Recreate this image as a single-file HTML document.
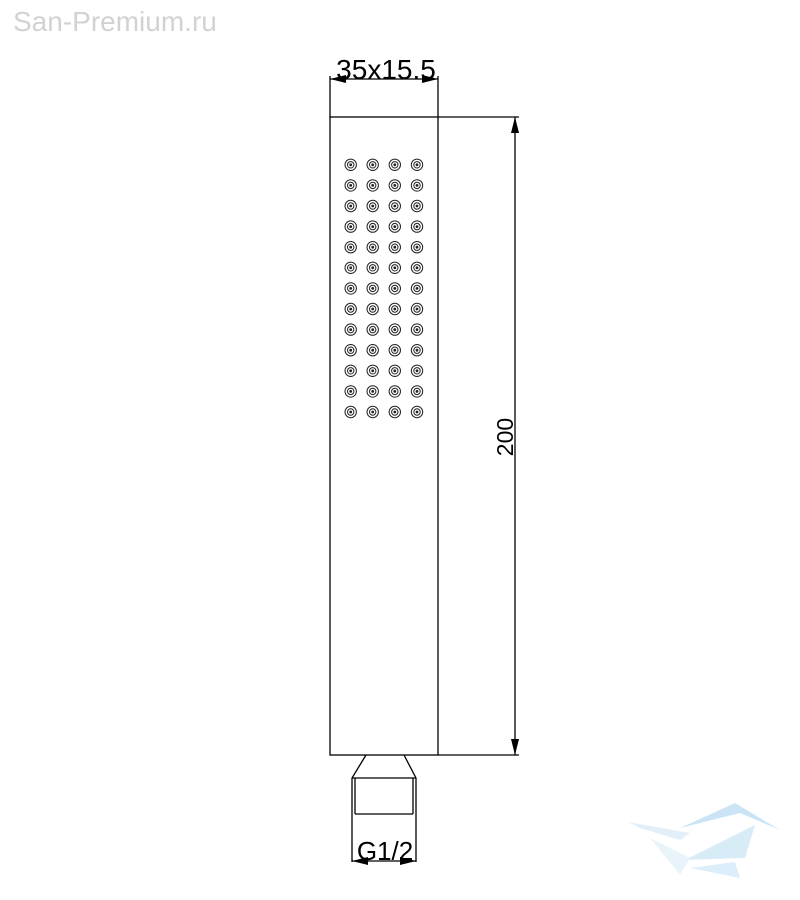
<!DOCTYPE html>
<html><head><meta charset="utf-8"><style>
html,body{margin:0;padding:0;background:#fff;}
svg{display:block;}
</style></head><body>
<svg width="800" height="900" viewBox="0 0 800 900" xmlns="http://www.w3.org/2000/svg">
<defs>
<g id="d" stroke="#222" fill="none" stroke-width="1"><circle r="5.7"/><circle r="3.2"/><circle r="0.9" fill="#222"/></g>
<g id="row"><use href="#d" x="350.7"/><use href="#d" x="372.7"/><use href="#d" x="394.8"/><use href="#d" x="417"/></g>
</defs>
<text x="13" y="31" font-family="Liberation Sans, sans-serif" font-size="28" fill="#d2d2d2">San-Premium.ru</text>
<g stroke="#000" stroke-width="1.3" fill="none">
<rect x="330" y="117" width="108" height="638"/>
<line x1="438" y1="117" x2="519" y2="117"/>
<line x1="438" y1="755" x2="519" y2="755"/>
<line x1="515" y1="117" x2="515" y2="755"/>
<line x1="330" y1="117" x2="330" y2="76"/>
<line x1="438" y1="117" x2="438" y2="76"/>
<line x1="330" y1="79" x2="438" y2="79"/>
<polyline points="366,755 352,778 352,862"/>
<polyline points="404,755 416,778 416,862"/>
<line x1="352" y1="778" x2="416" y2="778"/>
<line x1="355" y1="778" x2="355" y2="814"/>
<line x1="413" y1="778" x2="413" y2="814"/>
<line x1="355" y1="814" x2="413" y2="814"/>
<line x1="352" y1="861" x2="416" y2="861"/>
</g>
<g fill="#000">
<polygon points="330,79 346,75 346,83"/>
<polygon points="438,79 422,75 422,83"/>
<polygon points="515,117 511,133 519,133"/>
<polygon points="515,755 511,739 519,739"/>
<polygon points="352,861 368,857 368,865"/>
<polygon points="416,861 400,857 400,865"/>
</g>
<text x="386" y="79" text-anchor="middle" font-family="Liberation Sans, sans-serif" font-size="28">35x15.5</text>
<text x="385" y="860" text-anchor="middle" font-family="Liberation Sans, sans-serif" font-size="26">G1/2</text>
<text transform="translate(513,437) rotate(-90)" text-anchor="middle" font-family="Liberation Sans, sans-serif" font-size="23">200</text>
<use href="#row" y="164.8"/>
<use href="#row" y="185.4"/>
<use href="#row" y="206"/>
<use href="#row" y="226.6"/>
<use href="#row" y="247.2"/>
<use href="#row" y="267.8"/>
<use href="#row" y="288.4"/>
<use href="#row" y="309"/>
<use href="#row" y="329.6"/>
<use href="#row" y="350.2"/>
<use href="#row" y="370.8"/>
<use href="#row" y="391.4"/>
<use href="#row" y="412"/>
<g opacity="0.6">
<polygon points="628,822 690,833 680,840 640,828" fill="#cfe6f5"/>
<polygon points="680,828 735,803 780,830 740,813" fill="#a9d3ef"/>
<polygon points="685,860 755,825 745,858" fill="#bfe0f4"/>
<polygon points="650,838 690,858 680,875 660,850" fill="#d9ecf8"/>
<polygon points="690,868 735,862 740,878" fill="#c6e3f6"/>
</g>
</svg>
</body></html>
